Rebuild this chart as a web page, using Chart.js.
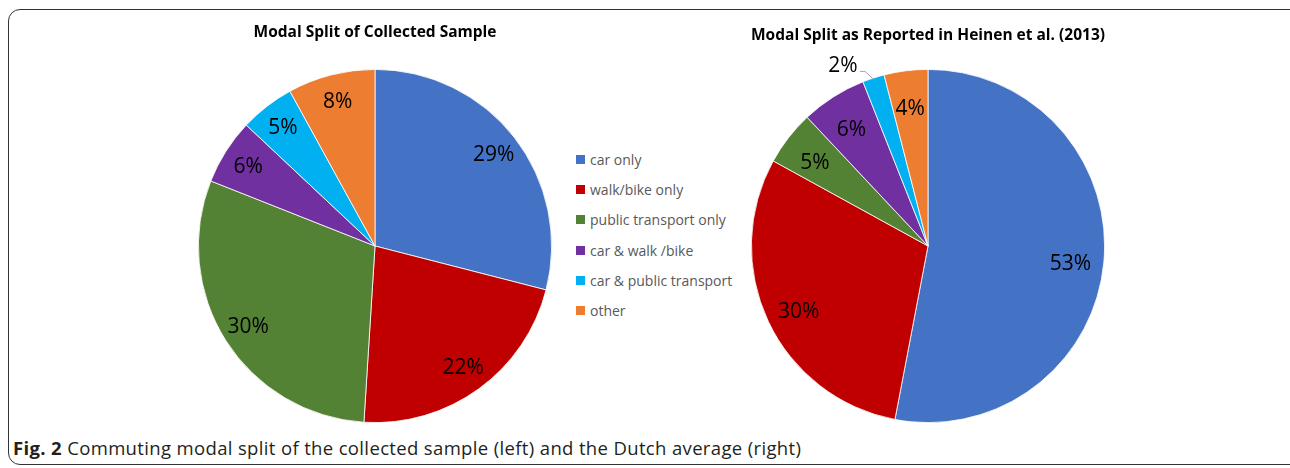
<!DOCTYPE html>
<html>
<head>
<meta charset="utf-8">
<script src="https://cdn.jsdelivr.net/npm/chart.js@4.4.1/dist/chart.umd.min.js"></script>
<style>
  body { margin: 0; background: #fff; width: 1290px; height: 468px; overflow: hidden; position: relative; font-family: "Open Sans", sans-serif; }
  .frame { position: absolute; left: 8px; top: 9px; width: 1296px; height: 454px; border: 1.5px solid #333; border-radius: 12px; }
  canvas { position: absolute; }
  #leftPie { left: 195px; top: 10px; }
  #rightPie { left: 748px; top: 10px; }
  #legend { position: absolute; left: 576px; top: 150px; }
  .item { height: 30.2px; display: flex; align-items: flex-start; font-size: 14px; color: #595959; white-space: nowrap; }
  .box { width: 9px; height: 9px; margin: 5px 5px 0 0; }
  .caption { position: absolute; left: 13px; top: 435px; font-size: 18.5px; letter-spacing: 0.35px; color: #231f20; white-space: nowrap; }
  .caption b { font-weight: 700; }
</style>
</head>
<body>
<div class="frame"></div>
<canvas id="leftPie" width="360" height="413"></canvas>
<div id="legend"></div>
<canvas id="rightPie" width="360" height="413"></canvas>
<div class="caption"><b>Fig. 2</b> Commuting modal split of the collected sample (left) and the Dutch average (right)</div>

<script>
const categories = ['car only', 'walk/bike only', 'public transport only', 'car & walk /bike', 'car & public transport', 'other'];
const sampleShares = [29, 22, 30, 6, 5, 8];
const heinenShares = [53, 30, 5, 6, 2, 4];
const sliceColors = ['#4472C4', '#C00000', '#548235', '#7030A0', '#00B0F0', '#ED7D31'];

// legend in the middle, shared by both pies
const legend = document.getElementById('legend');
categories.forEach((name, i) => {
    const row = document.createElement('div');
    row.className = 'item';
    row.innerHTML = `<span class="box" style="background:${sliceColors[i]}"></span>${name}`;
    legend.appendChild(row);
});

// percentage labels drawn on each slice, small ones pushed outside with a leader line
const sliceLabels = {
    id: 'sliceLabels',
    afterDatasetsDraw(chart, args, opts) {
        const ctx = chart.ctx;
        const values = chart.data.datasets[0].data;
        const meta = chart.getDatasetMeta(0);
        ctx.save();
        ctx.font = '21px "Open Sans"';
        ctx.fillStyle = '#000';
        ctx.textAlign = 'center';
        ctx.textBaseline = 'middle';
        meta.data.forEach((arc, i) => {
            const p = arc.getProps(['x', 'y', 'startAngle', 'endAngle', 'outerRadius'], true);
            const mid = (p.startAngle + p.endAngle) / 2;
            if (values[i] < 3) {
                const a = mid - 0.13;
                const lx = p.x + Math.cos(a) * p.outerRadius * 1.12;
                const ly = p.y + Math.sin(a) * p.outerRadius * 1.12 - 1;
                ctx.fillText(values[i] + '%', lx, ly);
                ctx.strokeStyle = '#a6a6a6';
                ctx.lineWidth = 1;
                ctx.beginPath();
                ctx.moveTo(lx + 17, ly + 5);
                ctx.lineTo(lx + 22, ly + 5);
                ctx.lineTo(p.x + Math.cos(mid) * p.outerRadius * 0.99, p.y + Math.sin(mid) * p.outerRadius * 0.99);
                ctx.stroke();
            } else {
                const r = p.outerRadius * opts.radius;
                ctx.fillText(values[i] + '%', p.x + Math.cos(mid) * r, p.y + Math.sin(mid) * r + opts.dy);
            }
        });
        ctx.restore();
    }
};

function makePie(id, title, shares, titlePad, labelOpts) {
    return new Chart(document.getElementById(id).getContext('2d'), {
        type: 'pie',
        data: {
            labels: categories,
            datasets: [{
                data: shares,
                backgroundColor: sliceColors,
                borderColor: '#ffffff',
                borderWidth: 0.8
            }]
        },
        options: {
            responsive: false,
            animation: false,
            layout: { padding: { left: 3, right: 3, top: 0, bottom: 0 } },
            plugins: {
                legend: { display: false },
                tooltip: { enabled: false },
                title: {
                    display: true,
                    text: title,
                    color: '#000',
                    font: { family: '"Open Sans"', size: 15.5, weight: 'bold' },
                    padding: titlePad
                },
                sliceLabels: labelOpts
            }
        },
        plugins: [sliceLabels]
    });
}

makePie('leftPie', 'Modal Split of Collected Sample', sampleShares, { top: 13, bottom: 27.4 }, { radius: 0.85, dy: 1 });
makePie('rightPie', 'Modal Split as Reported in Heinen et al. (2013)', heinenShares, { top: 16, bottom: 24.4 }, { radius: 0.81, dy: 5 });
</script>
</body>
</html>
